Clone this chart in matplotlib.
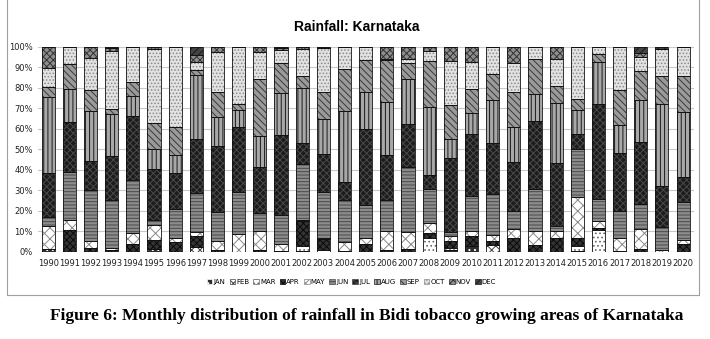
import matplotlib
matplotlib.use("Agg")
import matplotlib.pyplot as plt
from matplotlib.patches import Patch
from matplotlib.lines import Line2D
import numpy as np

# years on the x axis
years = [str(y) for y in range(1990, 2021)]
months = ["JAN", "FEB", "MAR", "APR", "MAY", "JUN", "JUL", "AUG", "SEP", "OCT", "NOV", "DEC"]

# share of annual rainfall (%) per month
jan = [1.5, 0, 0, 0, 0, 1.5, 0, 0, 0, 0, 0, 0, 0.5, 0, 0, 0, 0, 0, 0, 1, 3, 0, 0, 0, 0, 0.5, 0, 0, 0, 0, 0]
feb = [0, 0, 0, 0, 0, 0, 0, 2.5, 0, 0, 0, 0, 0, 0, 0, 0, 0, 0, 0, 0, 0, 3.5, 0, 0, 0, 0, 0, 0, 0, 0, 0]
mar = [0, 0, 0, 0, 0, 0, 0, 0, 0, 0, 0, 0, 2.5, 1, 0, 0, 0, 0, 6.5, 1, 0, 0, 0, 0, 0, 2.5, 10.5, 0, 0, 0, 0]
apr = [0, 10.5, 2, 1, 4, 4, 4.5, 5, 1, 0, 1, 0.5, 12, 5, 0.5, 4, 1, 1.5, 2.5, 3, 4.5, 1.5, 6.5, 3.5, 6.5, 3.5, 1, 0.5, 1.5, 0, 3.5]
may = [11, 5, 3, 1, 5, 7.5, 2, 2, 4, 8.5, 9, 3, 0.5, 0.5, 4, 2.5, 9, 8, 5, 2.5, 2.5, 3, 4.5, 6.5, 3.5, 20, 3.5, 6, 9.5, 1, 2]
jun = [4.5, 23.5, 25, 23, 26, 2.5, 14.5, 19, 14.5, 20.5, 9, 14, 27.5, 22.5, 20.5, 16.5, 15, 32, 16.5, 2, 17, 20, 9, 20.5, 2.5, 23.5, 10.5, 13.5, 12.5, 11, 18.5]
jul = [21.5, 24.5, 14.5, 21.5, 31, 25, 17.5, 26.5, 32, 32, 22.5, 39, 10, 18.5, 9, 37, 22, 21, 7, 36, 30.5, 25, 24, 33.5, 31, 7.5, 46.5, 28, 30, 20, 12.5]
aug = [37.5, 16, 24, 20.5, 10, 9.5, 8.5, 31, 14, 8, 15, 20, 27, 17.5, 34.5, 18, 26, 22, 33, 9.5, 10, 21, 17, 13, 29.5, 11.5, 20.5, 14, 20.5, 40, 31.5]
sep = [5, 12, 10.5, 2.5, 7, 13, 14, 2.5, 12.5, 3, 28, 14.5, 5.5, 13, 20.5, 15.5, 20.5, 8, 22.5, 16.5, 12, 12.5, 17, 17, 8.5, 5.5, 4, 17, 14, 13.5, 17.5]
oct_ = [9, 8.5, 15.5, 28.5, 17, 36, 39, 4, 19.5, 28, 13, 6.5, 13.5, 21.5, 11, 6.5, 0.5, 2, 5, 21.5, 13, 13.5, 14, 6, 13, 25.5, 3.5, 21, 7, 13.5, 14]
nov = [10.5, 0, 5.5, 1.5, 0, 1, 0, 3.5, 2.5, 0, 2.5, 1, 1, 0, 0, 0, 6, 6, 2, 7, 7.5, 0, 8, 0, 6, 0, 0, 0, 2, 0, 0]
dec = [0, 0, 0, 0.5, 0, 0, 0, 4, 0, 0, 0, 0.5, 0, 0.5, 0, 0, 0, 0, 0, 0, 0, 0, 0, 0, 0, 0, 0, 0, 3, 1, 0]

series = [jan, feb, mar, apr, may, jun, jul, aug, sep, oct_, nov, dec]

# grayscale pattern per month: face, hatch, hatch colour
styles = [
    ("#2e2e2e", "...", "#ffffff"),
    ("#ffffff", "xxxx", "#444444"),
    ("#ffffff", "....", "#666666"),
    ("#333333", "xxxxx", "#0a0a0a"),
    ("#ffffff", "xxx", "#8a8a8a"),
    ("#8c8c8c", "-----", "#4a4a4a"),
    ("#1c1c1c", "xxxxx", "#4a4a4a"),
    ("#a8a8a8", "||||", "#1a1a1a"),
    ("#9a9a9a", "\\\\\\\\\\", "#3a3a3a"),
    ("#e2e2e2", ".....", "#8a8a8a"),
    ("#8e8e8e", "xxxxx", "#333333"),
    ("#444444", "/////", "#1a1a1a"),
]

plt.rcParams["hatch.linewidth"] = 0.7

fig = plt.figure(figsize=(7.1, 3.39), dpi=100)
ax = fig.add_axes([0.053, 0.2575, 0.924, 0.6045])

data = np.array(series, dtype=float)
data = data / data.sum(axis=0) * 100
x = np.arange(len(years))
w = 0.62
bottom = np.zeros(len(years))
for vals, (fc, h, hc) in zip(data, styles):
    ax.bar(x, vals, w, bottom=bottom, color=fc, hatch=h, edgecolor=hc, linewidth=0, zorder=2)
    ax.bar(x, vals, w, bottom=bottom, facecolor="none", edgecolor="#111111", linewidth=0.6, zorder=3)
    bottom += vals

ax.set_xlim(-0.5, len(years) - 0.5)
ax.set_ylim(0, 100)
ax.set_yticks(range(0, 101, 10))
ax.set_yticklabels([f"{v}%" for v in range(0, 101, 10)])
ax.set_xticks(x)
ax.set_xticklabels(years)
ax.tick_params(axis="both", length=0, labelsize=6, colors="#222222")
ax.tick_params(axis="x", pad=5)
ax.grid(axis="y", color="#c8c8c8", linewidth=0.8, zorder=0)
for s in ax.spines.values():
    s.set_visible(False)
ax.axhline(0, color="#b0b0b0", linewidth=0.8, zorder=1)

fig.text(0.503, 0.92, "Rainfall: Karnataka", ha="center", va="center",
         fontsize=10, fontweight="bold", family="Liberation Sans")

handles = [Patch(facecolor=fc, hatch=h, edgecolor=hc, linewidth=0.5) for fc, h, hc in styles]
fig.legend(handles, months, loc="center", bbox_to_anchor=(0.495, 0.168), ncol=12,
           frameon=False, fontsize=5, handlelength=0.8, handleheight=0.8,
           handletextpad=0.15, columnspacing=0.6)

# frame around the chart
fx0, fx1, fy0, fy1 = 7 / 710, 699 / 710, 1 - 295 / 339, 1.0
for xs, ys in [([fx0, fx0], [fy0, fy1]), ([fx1, fx1], [fy0, fy1]), ([fx0, fx1], [fy0, fy0])]:
    fig.add_artist(Line2D(xs, ys, transform=fig.transFigure, color="#a0a0a0", linewidth=0.8))

fig.text(0.516, 1 - 316 / 339, "Figure 6: Monthly distribution of rainfall in Bidi tobacco growing areas of Karnataka",
         ha="center", va="center", fontsize=12.5, fontweight="bold", family="Liberation Serif")

fig.savefig("out.png", dpi=100)
